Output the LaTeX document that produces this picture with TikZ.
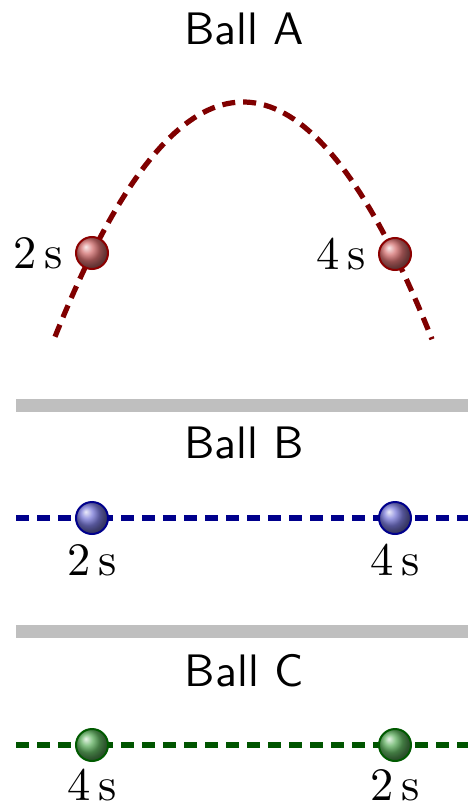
\documentclass[tikz,border=0pt]{standalone}
\begin{document}
\begin{tikzpicture}[x=1pt,y=-1pt,
  title/.style={font=\sffamily, inner sep=0pt, scale=4.55, transform shape},
  lbl/.style={font=\rmfamily, inner sep=0pt, scale=4.65, transform shape},
  path/.style={line width=5.2pt, dash pattern=on 13pt off 8pt},
  ballA/.style={circle, minimum size=32pt, inner sep=0pt, line width=2pt, draw={rgb,255:red,140;green,0;blue,0}, shading=ball, ball color={rgb,255:red,210;green,110;blue,110}},
  ballB/.style={circle, minimum size=32pt, inner sep=0pt, line width=2pt, draw={rgb,255:red,0;green,0;blue,140}, shading=ball, ball color={rgb,255:red,120;green,120;blue,215}},
  ballC/.style={circle, minimum size=32pt, inner sep=0pt, line width=2pt, draw={rgb,255:red,0;green,90;blue,0}, shading=ball, ball color={rgb,255:red,95;green,175;blue,95}},
  bar/.style={fill={rgb,255:red,191;green,191;blue,191}}]
\definecolor{darkredc}{RGB}{128,0,0}
\definecolor{navyc}{RGB}{0,0,140}
\definecolor{greenc}{RGB}{0,85,0}
\useasboundingbox (0,0) rectangle (468,805);

% Ball A
\node[title] (tA) at (244,29) {Ball A};
\draw[path, darkredc] plot[domain=55:432, samples=80] (\x, {102+236*((\x-243)/188.5)^2});
\node[ballA] (a1) at (92,253) {};
\node[ballA] (a2) at (395,254) {};
\node[lbl, anchor=east] (la1) at ([xshift=-11pt]a1.west) {2\,s};
\node[lbl, anchor=east] (la2) at ([xshift=-11pt]a2.west) {4\,s};

\fill[bar] (16,399) rectangle (468,412);

% Ball B
\node[title] (tB) at (244,443) {Ball B};
\coordinate (bL) at (16,518);
\coordinate (bR) at (468,518);
\draw[path, navyc] (bL) -- (bR);
\node[ballB] (b1) at (92,518) {};
\node[ballB] (b2) at (395,518) {};
\node[lbl] (lb1) at ([yshift=-42pt]b1.center) {2\,s};
\node[lbl] (lb2) at ([yshift=-42pt]b2.center) {4\,s};

\fill[bar] (16,625) rectangle (468,638);

% Ball C
\node[title] (tC) at (244,671) {Ball C};
\coordinate (cL) at (16,745);
\coordinate (cR) at (468,745);
\draw[path, greenc] (cL) -- (cR);
\node[ballC] (c1) at (92,745) {};
\node[ballC] (c2) at (395,745) {};
\node[lbl] (lc1) at ([yshift=-40pt]c1.center) {4\,s};
\node[lbl] (lc2) at ([yshift=-40pt]c2.center) {2\,s};
\end{tikzpicture}
\end{document}
